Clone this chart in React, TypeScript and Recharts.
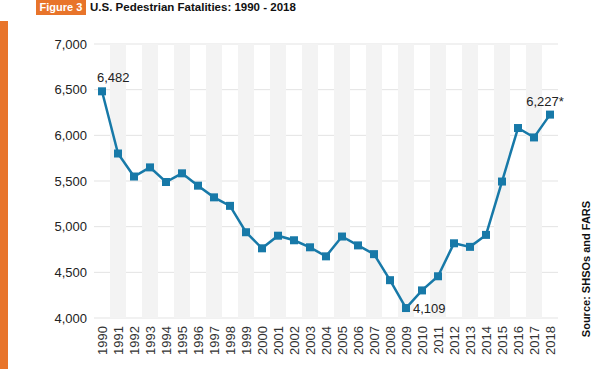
import React from "react";
import {
  ComposedChart,
  Line,
  XAxis,
  YAxis,
  CartesianGrid,
  ReferenceArea,
} from "recharts";

const years = [
  "1990", "1991", "1992", "1993", "1994", "1995", "1996", "1997", "1998", "1999",
  "2000", "2001", "2002", "2003", "2004", "2005", "2006", "2007", "2008", "2009",
  "2010", "2011", "2012", "2013", "2014", "2015", "2016", "2017", "2018",
];
const fatalities = [
  6482, 5801, 5549, 5649, 5489, 5584, 5449, 5321, 5228, 4939,
  4763, 4901, 4851, 4774, 4675, 4892, 4795, 4699, 4414, 4109,
  4302, 4457, 4818, 4779, 4910, 5494, 6080, 5977, 6227,
];
const yTicks = [4000, 4500, 5000, 5500, 6000, 6500, 7000];
const callouts: Record<string, string> = {
  "1990": "6,482",
  "2009": "4,109",
  "2018": "6,227*",
};

const data = years.map((year, i) => ({ year, value: fatalities[i] }));
const shadedYears = years.filter((_, i) => i % 2 === 1);

const ORANGE = "#e8742a";
const BLUE = "#1779a8";
const FONT = "Arial, 'Liberation Sans', Helvetica, sans-serif";

const SquareDot = (props: any) => {
  const { cx, cy, index } = props;
  if (cx == null || cy == null) return null;
  return <rect key={`dot-${index}`} x={cx - 4} y={cy - 4} width={8} height={8} fill={BLUE} />;
};

const RotatedTick = (props: any) => {
  const { x, y, payload } = props;
  return (
    <text
      x={x}
      y={y}
      transform={`rotate(-90 ${x} ${y})`}
      textAnchor="end"
      dominantBaseline="central"
      fontSize={13}
      fontFamily={FONT}
      fill="#333"
    >
      {payload.value}
    </text>
  );
};

const CalloutLabel = (props: any) => {
  const { x, y, index } = props;
  const year = years[index];
  const text = callouts[year];
  if (!text) return null;
  if (year === "2009") {
    return (
      <text x={x + 7} y={y} dominantBaseline="central" fontSize={13} fontFamily={FONT} fill="#222">
        {text}
      </text>
    );
  }
  if (index === 0) {
    return (
      <text x={x - 5} y={y - 9} fontSize={13} fontFamily={FONT} fill="#222">
        {text}
      </text>
    );
  }
  return (
    <text x={x - 5} y={y - 9} textAnchor="middle" fontSize={13} fontFamily={FONT} fill="#222">
      {text}
    </text>
  );
};

export default function App() {
  return (
    <div
      style={{
        position: "absolute",
        top: 0,
        left: 0,
        width: 605,
        height: 369,
        background: "#fff",
        fontFamily: FONT,
        overflow: "hidden",
      }}
    >
      <div style={{ position: "absolute", left: 0, top: 21, width: 8, height: 348, background: ORANGE }} />
      <div
        style={{
          position: "absolute",
          left: 36,
          top: 0,
          width: 50,
          height: 15,
          background: ORANGE,
          color: "#fff",
          fontWeight: "bold",
          fontSize: 11,
          lineHeight: "15px",
          textAlign: "center",
        }}
      >
        Figure 3
      </div>
      <div
        style={{
          position: "absolute",
          left: 90,
          top: 0,
          height: 15,
          lineHeight: "15px",
          fontWeight: "bold",
          fontSize: 11.5,
          color: "#111",
          whiteSpace: "nowrap",
        }}
      >
        U.S. Pedestrian Fatalities: 1990 - 2018
      </div>
      <div
        style={{
          position: "absolute",
          left: 586,
          top: 269,
          transform: "translate(-50%, -50%) rotate(-90deg)",
          fontSize: 11,
          fontWeight: "bold",
          color: "#111",
          whiteSpace: "nowrap",
        }}
      >
        Source: SHSOs and FARS
      </div>
      <ComposedChart
        width={605}
        height={369}
        data={data}
        margin={{ top: 44, right: 47, bottom: 0, left: 0 }}
        style={{ position: "absolute", left: 0, top: 0 }}
      >
        {shadedYears.map((yr) => (
          <ReferenceArea
            key={yr}
            x1={yr}
            x2={yr}
            y1={4000}
            y2={7000}
            fill="#f3f3f3"
            fillOpacity={1}
            stroke="none"
          />
        ))}
        <CartesianGrid vertical={false} stroke="#e3e3e3" strokeWidth={1} />
        <XAxis
          dataKey="year"
          scale="band"
          interval={0}
          height={51}
          axisLine={false}
          tickLine={false}
          tick={<RotatedTick />}
        />
        <YAxis
          domain={[4000, 7000]}
          ticks={yTicks}
          width={94}
          axisLine={false}
          tickLine={false}
          tickMargin={1}
          tick={{ fontSize: 13, fontFamily: FONT, fill: "#222" }}
          tickFormatter={(v: number) => v.toLocaleString("en-US")}
        />
        <Line
          dataKey="value"
          stroke={BLUE}
          strokeWidth={2.5}
          dot={<SquareDot />}
          activeDot={false}
          label={<CalloutLabel />}
          isAnimationActive={false}
        />
      </ComposedChart>
    </div>
  );
}
